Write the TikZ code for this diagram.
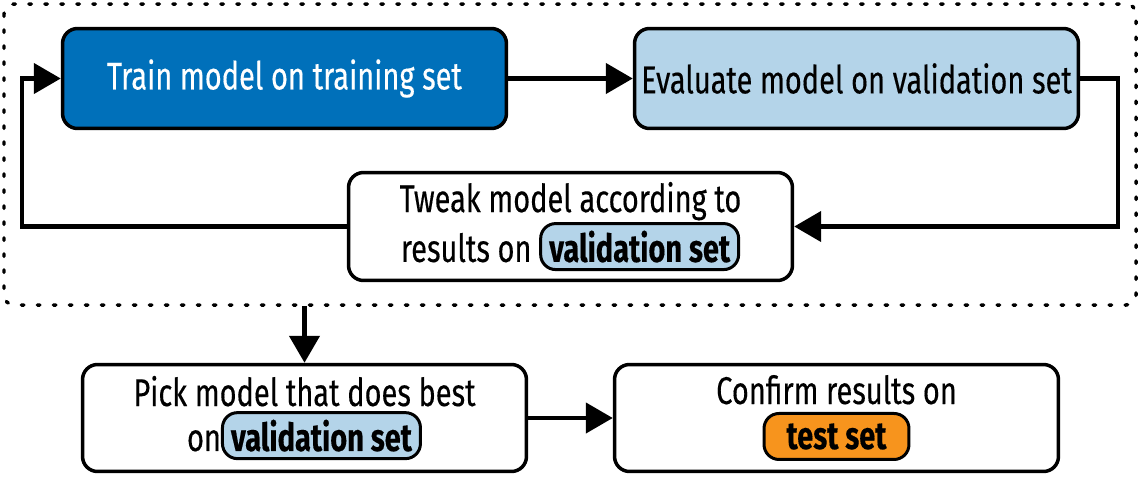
\documentclass[tikz,border=0pt]{standalone}
\usepackage{fontspec}
\setmainfont{Fira Sans}[FakeStretch=0.75, FakeBold=0.3]
\usetikzlibrary{arrows.meta}
\definecolor{trainblue}{HTML}{0070BA}
\definecolor{valblue}{HTML}{B4D4E9}
\definecolor{testorange}{HTML}{F7941D}
\tikzset{
  pillbox/.style={draw, line width=0.06cm, rounded corners=0.3cm, minimum height=0.92cm,
    inner xsep=0.17cm, inner ysep=0pt, text=black, font=\bfseries, align=center},
}
\newcommand{\pill}[3][0pt]{\tikz[baseline=(pl.base)]\node[pillbox, fill=#2, minimum width=#1] (pl) {#3};}

\begin{document}
\begin{tikzpicture}[x=0.02cm, y=-0.02cm,
  box/.style={draw, line width=0.07cm, rounded corners=0.3cm, minimum width=8.88cm,
    align=center, font=\fontsize{22}{25.6}\selectfont},
  flow/.style={line width=0.09cm, -{Triangle[length=0.54cm, width=0.6cm]}}]
\useasboundingbox (0,0) rectangle (1140,477);
\draw[line width=0.07cm, dash pattern=on 0.05cm off 0.27cm, line cap=round, rounded corners=0.2cm] (4,4) rectangle (1136,305);
\coordinate (loopout) at (304.5,306);
\node[box, fill=trainblue, text=white, minimum height=2.0cm] (train) at (284.5,78.5) {Train model on training set};
\node[box, fill=valblue, minimum height=2.0cm] (eval) at (856.5,78.5) {Evaluate model on validation set};
\node[box, minimum height=2.16cm] (tweak) at (570.5,226.5) {Tweak model according to\\results on \pill{valblue}{validation set}};
\node[box, minimum height=2.14cm] (pick) at (304.5,418) {Pick model that does best\\on\pill{valblue}{validation set}};
\node[box, minimum height=2.14cm] (confirm) at (836.5,418) {Confirm results on\\\pill[2.9cm]{testorange}{test set}};
\draw[flow] (train) -- (eval);
\draw[flow] (eval.east) -- ++(38,0) |- (tweak.east);
\draw[flow] (tweak.west) -- ++(-325,0) |- (train.west);
\draw[flow] (loopout) -- (pick);
\draw[flow] (pick) -- (confirm);
\end{tikzpicture}
\end{document}
